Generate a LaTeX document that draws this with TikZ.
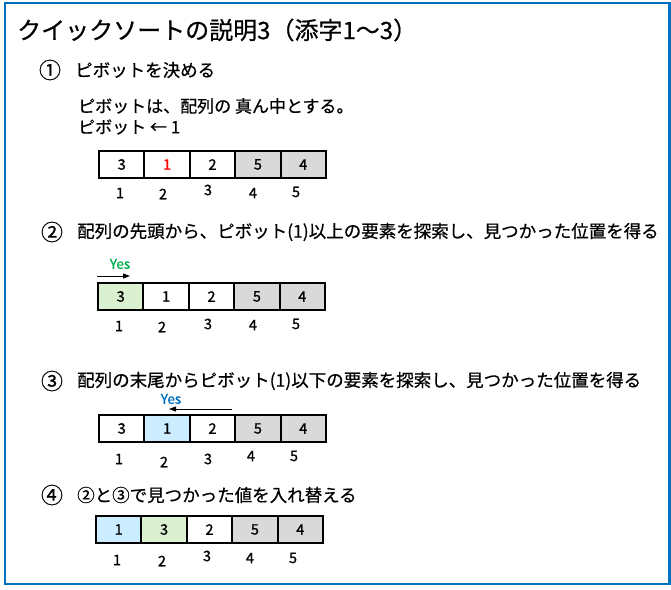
\documentclass[tikz,border=0pt]{standalone}
\usepackage{fontspec}
\setmainfont{Noto Sans CJK JP}[FakeBold=0.6]
\newfontfamily\digitfont{Noto Sans CJK JP}[FakeBold=1.2]
\usetikzlibrary{arrows.meta}
\definecolor{frameblue}{RGB}{0,112,192}
\definecolor{cellgray}{RGB}{217,217,217}
\definecolor{cellgreen}{RGB}{218,240,208}
\definecolor{cellblue}{RGB}{204,236,255}
\definecolor{yesgreen}{RGB}{0,176,80}
\definecolor{yesblue}{RGB}{0,112,192}
\newcommand\cellrow[4]{%
  \foreach \v/\f/\t [count=\i] in {#4} {%
    \node[cell, fill=\f, text=\t] (#1-\i) at ({#2+(\i-1)*45.4},#3) {\v};
  }%
}
\begin{document}
\begin{tikzpicture}[x=1pt,y=-1pt,
  cell/.style={draw=black, line width=2pt, minimum width=45.4pt, minimum height=27pt,
    inner sep=0pt, anchor=north west, font=\digitfont\fontsize{14.5}{14.5}\selectfont},
  idx/.style={font=\digitfont\fontsize{14.5}{14.5}\selectfont, inner sep=0pt},
  title/.style={anchor=west, inner sep=0pt, font=\fontsize{24}{24}\selectfont},
  head/.style={anchor=west, inner sep=0pt, font=\fontsize{17.5}{17.5}\selectfont},
  circnum/.style={anchor=center, inner sep=0pt, font=\fontsize{22}{22}\selectfont},
  sub/.style={anchor=west, inner sep=0pt, font=\fontsize{17}{17}\selectfont},
  yes/.style={inner sep=0pt, font=\digitfont\fontsize{13.5}{13.5}\selectfont},
  scanarrow/.style={line width=0.9pt, -{Triangle[length=7pt,width=5pt]}}
]
\useasboundingbox (0,0) rectangle (671,589);
\draw[frameblue, line width=2.2pt] (5,3) rectangle (669.5,584);

\node[title] (title) at (17,30) {クイックソートの説明3（添字1～3）};

% step 1
\node[circnum] (n1) at (50,70) {①};
\node[head] (h1) at (75,70) {ピボットを決める};
\node[sub] (s1) at (78,106) {ピボットは、配列の 真ん中とする。};
\node[sub] (s2) at (78,127) {ピボット ← 1};
\cellrow{a}{98}{150}{3/white/black, 1/white/red, 2/white/black, 5/cellgray/black, 4/cellgray/black}
\node[idx] (ia1) at (120,193) {1};
\node[idx] (ia2) at (163,194) {2};
\node[idx] (ia3) at (208,190) {3};
\node[idx] (ia4) at (253,193) {4};
\node[idx] (ia5) at (296,192) {5};

% step 2
\node[circnum] (n2) at (52,232) {②};
\node[head] (h2) at (77,232) {配列の先頭から、ピボット(1)以上の要素を探索し、見つかった位置を得る};
\node[yes, text=yesgreen] (yes2) at (120,264) {Yes};
\coordinate (y2s) at (97,276);
\coordinate (y2e) at (130,276);
\draw[scanarrow] (y2s) -- (y2e);
\cellrow{b}{97}{282}{3/cellgreen/black, 1/white/black, 2/white/black, 5/cellgray/black, 4/cellgray/black}
\node[idx] (ib1) at (119,326) {1};
\node[idx] (ib2) at (162,327) {2};
\node[idx] (ib3) at (208,324) {3};
\node[idx] (ib4) at (253,325) {4};
\node[idx] (ib5) at (296,324) {5};

% step 3
\node[circnum] (n3) at (52,381) {③};
\node[head] (h3) at (77,381) {配列の末尾からピボット(1)以下の要素を探索し、見つかった位置を得る};
\node[yes, text=yesblue] (yes3) at (171,399) {Yes};
\coordinate (y3s) at (232,409);
\coordinate (y3e) at (169,409);
\draw[scanarrow] (y3s) -- (y3e);
\cellrow{c}{98}{414}{3/white/black, 1/cellblue/black, 2/white/black, 5/cellgray/black, 4/cellgray/black}
\node[idx] (ic1) at (119,459) {1};
\node[idx] (ic2) at (164,462) {2};
\node[idx] (ic3) at (208,459) {3};
\node[idx] (ic4) at (251,456) {4};
\node[idx] (ic5) at (294,456) {5};

% step 4
\node[circnum] (n4) at (52,495) {④};
\node[head] (h4) at (77,495) {②と③で見つかった値を入れ替える};
\cellrow{d}{95}{515}{1/cellblue/black, 3/cellgreen/black, 2/white/black, 5/cellgray/black, 4/cellgray/black}
\node[idx] (id1) at (117,560) {1};
\node[idx] (id2) at (162,561) {2};
\node[idx] (id3) at (207,556) {3};
\node[idx] (id4) at (250,558) {4};
\node[idx] (id5) at (293,558) {5};
\end{tikzpicture}
\end{document}
